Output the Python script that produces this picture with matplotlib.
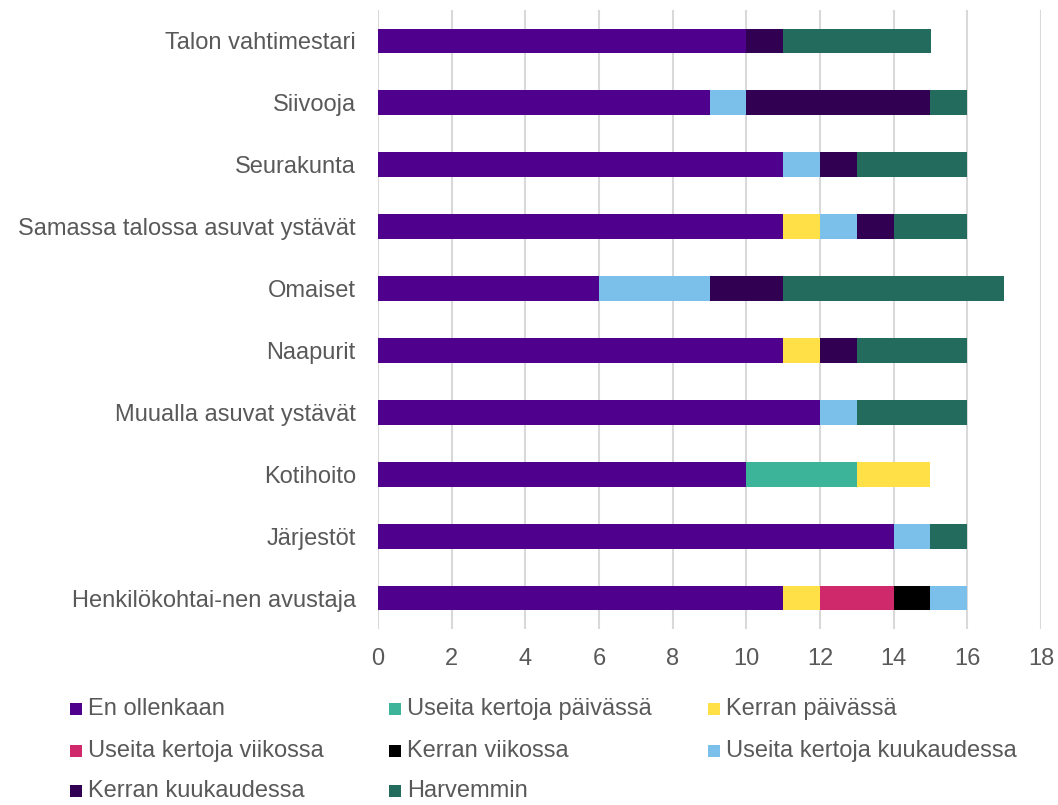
import matplotlib.pyplot as plt
from matplotlib.patches import Rectangle
import numpy as np

plt.rcParams['font.family'] = ['Liberation Sans', 'DejaVu Sans']

categories = ['Henkilökohtai-nen avustaja', 'Järjestöt', 'Kotihoito',
              'Muualla asuvat ystävät', 'Naapurit', 'Omaiset',
              'Samassa talossa asuvat ystävät', 'Seurakunta', 'Siivooja',
              'Talon vahtimestari']

series = ['En ollenkaan', 'Useita kertoja päivässä', 'Kerran päivässä',
          'Useita kertoja viikossa', 'Kerran viikossa',
          'Useita kertoja kuukaudessa', 'Kerran kuukaudessa', 'Harvemmin']

en_ollenkaan = [11, 14, 10, 12, 11, 6, 11, 11, 9, 10]
useita_paivassa = [0, 0, 3, 0, 0, 0, 0, 0, 0, 0]
kerran_paivassa = [1, 0, 2, 0, 1, 0, 1, 0, 0, 0]
useita_viikossa = [2, 0, 0, 0, 0, 0, 0, 0, 0, 0]
kerran_viikossa = [1, 0, 0, 0, 0, 0, 0, 0, 0, 0]
useita_kuukaudessa = [1, 1, 0, 1, 0, 3, 1, 1, 1, 0]
kerran_kuukaudessa = [0, 0, 0, 0, 1, 2, 1, 1, 5, 1]
harvemmin = [0, 1, 0, 3, 3, 6, 2, 3, 1, 4]

values = [en_ollenkaan, useita_paivassa, kerran_paivassa, useita_viikossa,
          kerran_viikossa, useita_kuukaudessa, kerran_kuukaudessa, harvemmin]

colors = ['#4F008C', '#3CB499', '#FFE147', '#D0296B', '#000000',
          '#7AC0EA', '#320052', '#236B5C']

text_color = '#595959'
W, H = 1058, 805

fig = plt.figure(figsize=(W / 100, H / 100), dpi=100)
ax = fig.add_axes([378 / W, 1 - 629 / H, 663 / W, 619 / H])

y = np.arange(len(categories))
left = np.zeros(len(categories))
for name, vals, c in zip(series, values, colors):
    vals = np.array(vals, dtype=float)
    ax.barh(y, vals, left=left, height=0.4, color=c, label=name, zorder=2)
    left += vals

ax.set_xlim(0, 18)
ax.set_ylim(-0.5, len(categories) - 0.5)
ax.set_xticks(range(0, 19, 2))
ax.set_yticks(y)
ax.set_yticklabels(categories)
ax.grid(axis='x', color='#D9D9D9', linewidth=1.5, zorder=0)
for s in ax.spines.values():
    s.set_visible(False)
ax.tick_params(length=0, labelsize=17, colors=text_color)
ax.tick_params(axis='x', pad=14)
ax.tick_params(axis='y', pad=16)

# legend laid out row by row, three columns, like the original
col_x = [70, 389, 708]
row_y = [709, 751, 791]
sq = 12
for i, (name, c) in enumerate(zip(series, colors)):
    px = col_x[i % 3]
    py = row_y[i // 3]
    fig.patches.append(Rectangle((px / W, 1 - (py + sq / 2) / H), sq / W,
                                 sq / H, transform=fig.transFigure,
                                 facecolor=c, edgecolor='none'))
    fig.text((px + sq + 6) / W, 1 - py / H, name, fontsize=17,
             color=text_color, va='center', ha='left')

fig.savefig('out.png', dpi=100)
